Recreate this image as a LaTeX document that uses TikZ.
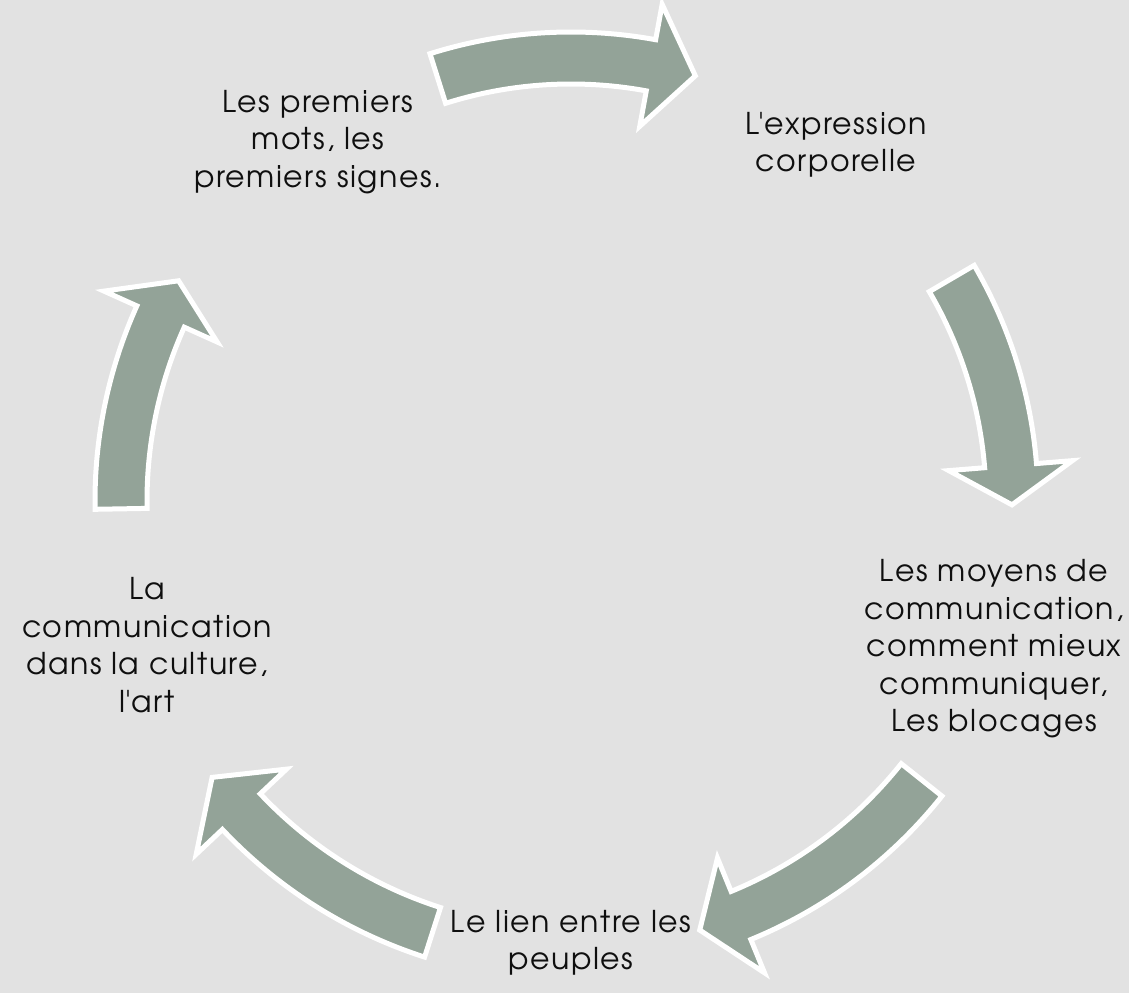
\documentclass[tikz,border=0pt]{standalone}
\usepackage{fontspec}
\setmainfont{TeX Gyre Adventor}[LetterSpace=5]
\definecolor{bgcol}{RGB}{226,226,226}
\definecolor{arrowfill}{RGB}{147,163,152}
\definecolor{txtcol}{RGB}{15,15,15}
\tikzset{
  cyclearrow/.style={fill=arrowfill, draw=white, line width=5pt, line join=miter, miter limit=10},
  steptext/.style={align=center, text=txtcol, inner sep=0pt, font=\fontsize{30}{37.5}\selectfont}
}
% #1 radius, #2 tail angle, #3 head-base angle, #4 tip angle
\newcommand\cycarrow[4]{%
  \path[cyclearrow] ({#2}:{#1+26}) arc[start angle={#2}, end angle={#3}, radius={#1+26}]
    -- ({#3}:{#1+62}) -- ({#4}:{#1}) -- ({#3}:{#1-62}) -- ({#3}:{#1-26})
    arc[start angle={#3}, end angle={#2}, radius={#1-26}] -- cycle;}
\begin{document}
\begin{tikzpicture}[x=1pt,y=1pt]
\fill[bgcol] (0,0) rectangle (1129,993);
\useasboundingbox (0,0) rectangle (1129,993);
\begin{scope}[shift={(571,492)}]
  \cycarrow{443}{107.5}{79.6}{73.7}
  \cycarrow{441}{30.3}{4.6}{-0.5}
  \cycarrow{448}{-38.5}{-67.7}{-73.3}
  \cycarrow{453}{-107.8}{-136.7}{-142.4}
  \cycarrow{450}{181}{155.8}{150.7}
\end{scope}
\node[steptext] (n1) at (318,851) {Les premiers\\mots, les\\premiers signes.};
\node[steptext] (n2) at (836,848) {L\textquotesingle expression\\corporelle};
\node[steptext] (n3) at (994,344) {Les moyens de\\communication,\\comment mieux\\communiquer,\\Les blocages};
\node[steptext] (n4) at (571,50) {Le lien entre les\\peuples};
\node[steptext] (n5) at (147,348) {La\\communication\\dans la culture,\\l\textquotesingle art};
\end{tikzpicture}
\end{document}
